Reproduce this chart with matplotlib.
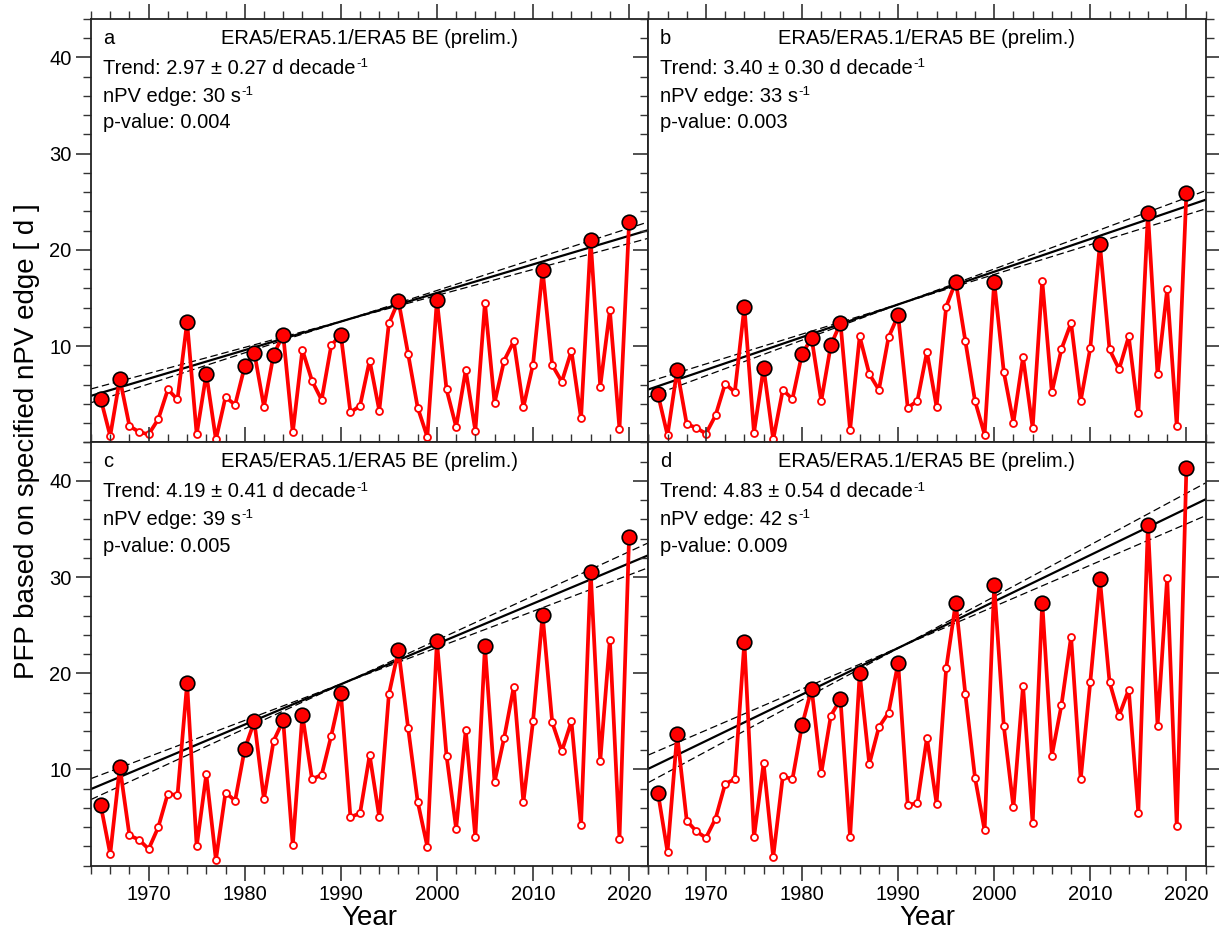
import numpy as np
import matplotlib
matplotlib.use("Agg")
import matplotlib.pyplot as plt

plt.rcParams['font.family'] = ['Liberation Sans', 'DejaVu Sans']

# PFP per winter (days)
years = np.arange(1965, 2021)

pfp_a = [4.55, 0.66, 6.6, 1.7, 1.07, 0.83, 2.4, 5.5, 4.45, 12.5,
         0.83, 7.1, 0.3, 4.7, 3.9, 7.9, 9.3, 3.7, 9.1, 11.2,
         1.03, 9.6, 6.4, 4.4, 10.07, 11.2, 3.1, 3.8, 8.5, 3.3,
         12.35, 14.7, 9.2, 3.6, 0.56, 14.8, 5.5, 1.6, 7.5, 1.2,
         14.5, 4.1, 8.5, 10.5, 3.65, 8.07, 17.9, 8.03, 6.3, 9.5,
         2.5, 21.0, 5.8, 13.7, 1.4, 22.85]
pfp_b = [5.0, 0.73, 7.5, 1.9, 1.5, 0.9, 2.8, 6.1, 5.2, 14.1,
         1.0, 7.75, 0.3, 5.45, 4.5, 9.2, 10.8, 4.3, 10.1, 12.4,
         1.3, 11.0, 7.1, 5.45, 10.9, 13.2, 3.6, 4.3, 9.4, 3.7,
         14.1, 16.7, 10.5, 4.3, 0.8, 16.7, 7.3, 2.05, 8.85, 1.5,
         16.8, 5.2, 9.7, 12.4, 4.3, 9.8, 20.6, 9.65, 7.6, 11.0,
         3.0, 23.8, 7.05, 15.9, 1.67, 25.9]
pfp_c = [6.35, 1.2, 10.26, 3.15, 2.7, 1.73, 4.0, 7.5, 7.3, 18.96,
         2.0, 9.5, 0.6, 7.6, 6.76, 12.13, 15.0, 6.9, 12.96, 15.1,
         2.1, 15.67, 9.0, 9.43, 13.5, 18.0, 5.06, 5.44, 11.5, 5.06,
         17.8, 22.4, 14.35, 6.65, 1.98, 23.4, 11.44, 3.85, 14.1, 2.95,
         22.8, 8.7, 13.3, 18.6, 6.6, 15.0, 26.07, 14.9, 11.9, 15.0,
         4.23, 30.57, 10.9, 23.5, 2.8, 34.2]
pfp_d = [7.6, 1.42, 13.66, 4.68, 3.57, 2.9, 4.9, 8.5, 9.0, 23.26,
         2.95, 10.64, 0.9, 9.3, 8.98, 14.6, 18.4, 9.6, 15.6, 17.3,
         2.98, 20.0, 10.57, 14.4, 15.9, 21.07, 6.34, 6.48, 13.3, 6.45,
         20.5, 27.35, 17.8, 9.15, 3.67, 29.2, 14.5, 6.07, 18.7, 4.4,
         27.35, 11.44, 16.7, 23.8, 8.98, 19.1, 29.8, 19.1, 15.6, 18.3,
         5.48, 35.46, 14.56, 29.95, 4.09, 41.3]

# years drawn as large filled circles
big_ab = [1965, 1967, 1974, 1976, 1980, 1981, 1983, 1984, 1990, 1996, 2000, 2011, 2016, 2020]
big_cd = [1965, 1967, 1974, 1980, 1981, 1984, 1986, 1990, 1996, 2000, 2005, 2011, 2016, 2020]

panel_ids = ['a', 'b', 'c', 'd']
trend = [2.97, 3.40, 4.19, 4.83]        # d per decade
trend_err = [0.27, 0.30, 0.41, 0.54]
trend_mid = [12.7, 14.5, 19.07, 22.87]  # line value at pivot year
pivot_year = 1990.5
npv_edge = [30, 33, 39, 42]
p_values = ['0.004', '0.003', '0.005', '0.009']
dataset = 'ERA5/ERA5.1/ERA5 BE (prelim.)'

series = [pfp_a, pfp_b, pfp_c, pfp_d]
bigs = [big_ab, big_ab, big_cd, big_cd]

W, H = 1219, 938
fig = plt.figure(figsize=(W / 100, H / 100), dpi=100)

x0, xm, x1 = 91, 648.3, 1206.7
y_top, y_mid, y_bot = 19, 442.3, 865.7
pw = (xm - x0) / W
ph = (y_mid - y_top) / H
boxes = [
    (x0 / W, 1 - y_mid / H),
    (xm / W, 1 - y_mid / H),
    (x0 / W, 1 - y_bot / H),
    (xm / W, 1 - y_bot / H),
]

FS = 14.5


def text_sup(ax, y, base, sup):
    # text with a small raised "-1" like the original
    t = ax.text(0.021, y, base, transform=ax.transAxes, fontsize=FS)
    ax.annotate(sup, xy=(1.0, 1.0), xycoords=t, xytext=(0.5, 0.5),
                textcoords='offset points', fontsize=9.5, ha='left', va='top')


for i, (left, bottom) in enumerate(boxes):
    ax = fig.add_axes([left, bottom, pw, ph])
    vals = np.array(series[i])
    is_left = i in (0, 2)
    is_bottom = i in (2, 3)

    # trend and its uncertainty
    xl = np.array([1964, 2022])
    k = trend[i] / 10.0
    dk = trend_err[i] / 10.0
    ax.plot(xl, trend_mid[i] + k * (xl - pivot_year), color='black', lw=1.6, zorder=2)
    for s in (-1, 1):
        ax.plot(xl, trend_mid[i] + (k + s * dk) * (xl - pivot_year), color='black',
                lw=0.9, ls=(0, (6, 3)), zorder=2)

    ax.plot(years, vals, color='red', lw=2.7, zorder=3)
    mask = np.isin(years, bigs[i])
    ax.plot(years[~mask], vals[~mask], 'o', ms=5, mfc='white', mec='red', mew=1.3,
            zorder=4, ls='none')
    ax.plot(years[mask], vals[mask], 'o', ms=10.5, mfc='red', mec='black', mew=1.2,
            zorder=5, ls='none')

    ax.set_xlim(1964, 2022)
    ax.set_ylim(0, 44)
    ax.set_xticks([1970, 1980, 1990, 2000, 2010, 2020])
    ax.set_xticks(np.arange(1964, 2023, 2), minor=True)
    ax.set_yticks([10, 20, 30, 40])
    ax.set_yticks(np.arange(0, 45, 2), minor=True)

    ax.tick_params(which='both', direction='out', top=True, left=True,
                   right=not is_left, bottom=is_bottom,
                   labelleft=is_left, labelbottom=is_bottom, labelsize=14.5,
                   color='#333333')
    ax.tick_params(which='major', length=11, width=1.2, pad=3)
    ax.tick_params(which='minor', length=6, width=1.0)
    for sp in ax.spines.values():
        sp.set_linewidth(1.3)
        sp.set_color('#222222')

    ax.text(0.021, 0.942, panel_ids[i], transform=ax.transAxes, fontsize=FS)
    ax.text(0.5, 0.942, dataset, transform=ax.transAxes, fontsize=FS, ha='center')
    text_sup(ax, 0.870, 'Trend: %.2f \u00b1 %.2f d decade' % (trend[i], trend_err[i]), '-1')
    text_sup(ax, 0.805, 'nPV edge: %d s' % npv_edge[i], '-1')
    ax.text(0.021, 0.742, 'p-value: ' + p_values[i],
            transform=ax.transAxes, fontsize=FS)

    if is_bottom:
        fig.text(left + pw / 2, 0.021, 'Year', ha='center', va='center', fontsize=20)

fig.text(0.022, 0.53, 'PFP based on specified nPV edge [ d ]', rotation=90,
         ha='center', va='center', fontsize=20)

fig.savefig('out.png', dpi=100)
